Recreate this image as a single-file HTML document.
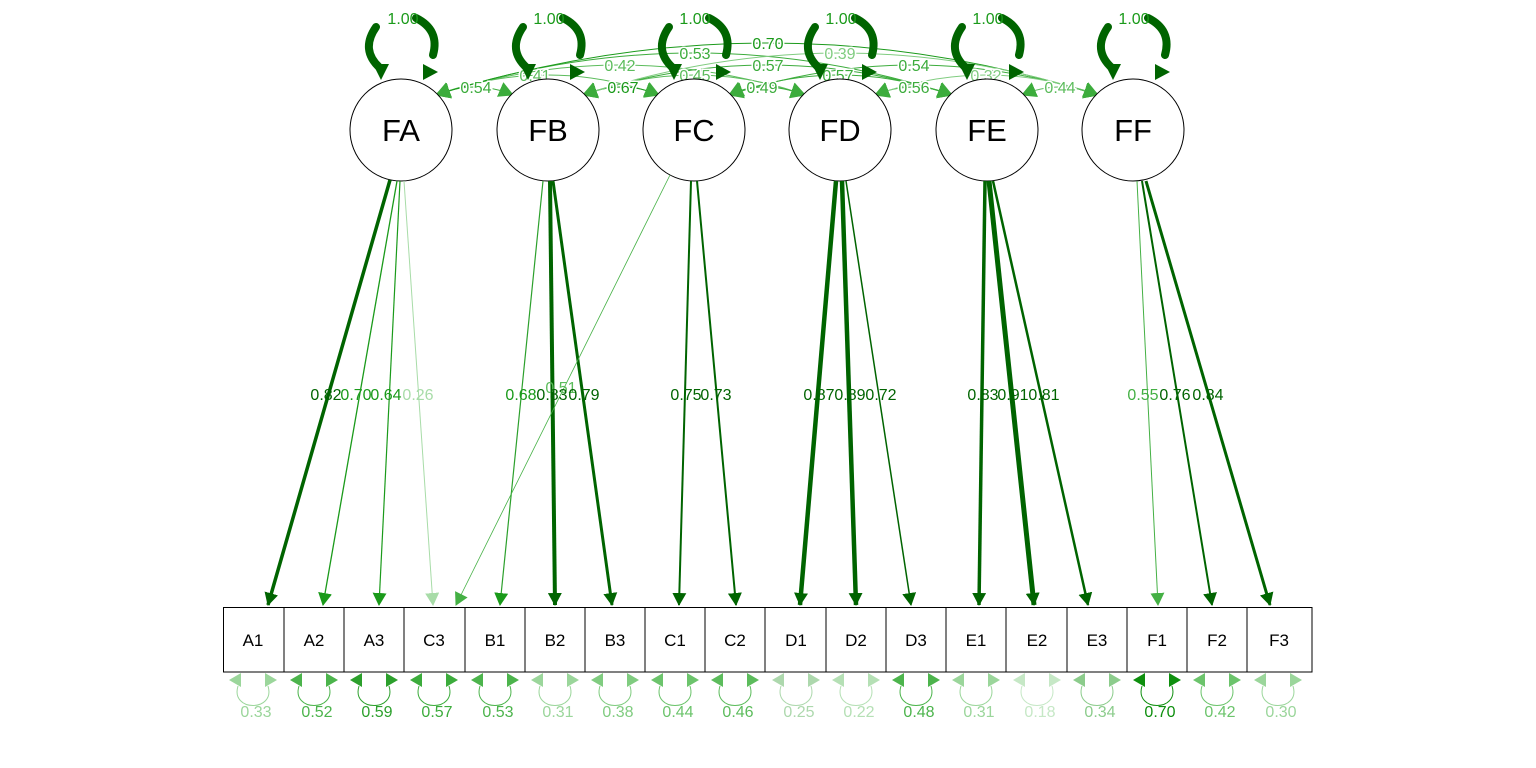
<!DOCTYPE html>
<html><head><meta charset="utf-8"><style>
html,body{margin:0;padding:0;background:#fff;}
svg{display:block;font-family:"Liberation Sans",Arial,sans-serif;}
.lt{font-size:16px;text-anchor:middle;}
.ct{font-size:16px;text-anchor:middle;paint-order:stroke;stroke:#fff;stroke-width:3px;}
.bt{font-size:17px;text-anchor:middle;fill:#000;}
.nt{font-size:31px;text-anchor:middle;fill:#000;}
</style></head><body>
<svg width="1536" height="768" viewBox="0 0 1536 768" xmlns="http://www.w3.org/2000/svg">
<defs>
<marker id="md" markerWidth="14" markerHeight="14" refX="12" refY="7" orient="auto" markerUnits="userSpaceOnUse"><path d="M0,0L13,7L0,14z" fill="#006400"/></marker>
<marker id="mm" markerWidth="14" markerHeight="14" refX="12" refY="7" orient="auto" markerUnits="userSpaceOnUse"><path d="M0,0L13,7L0,14z" fill="#1a9a1a"/></marker>
<marker id="ml" markerWidth="14" markerHeight="14" refX="12" refY="7" orient="auto" markerUnits="userSpaceOnUse"><path d="M0,0L13,7L0,14z" fill="#44b044"/></marker>
<marker id="mv" markerWidth="14" markerHeight="14" refX="12" refY="7" orient="auto" markerUnits="userSpaceOnUse"><path d="M0,0L13,7L0,14z" fill="#a8dca8"/></marker>
<marker id="cc" markerWidth="16" markerHeight="16" refX="14" refY="8" orient="auto-start-reverse" markerUnits="userSpaceOnUse"><path d="M0,0L15,8L0,16z" fill="#3cac3c"/></marker>
</defs>

<g fill="none" stroke-width="1">
<path d="M436,95 Q476,79 513,95" stroke="#3cac3c" marker-start="url(#cc)" marker-end="url(#cc)"/>
<path d="M436,95 Q548,55 659,95" stroke="#5cbc5c" marker-start="url(#cc)" marker-end="url(#cc)"/>
<path d="M583,95 Q623,79 659,95" stroke="#1a9a1a" marker-start="url(#cc)" marker-end="url(#cc)"/>
<path d="M436,95 Q620,35 805,95" stroke="#5cbc5c" marker-start="url(#cc)" marker-end="url(#cc)"/>
<path d="M436,95 Q695,11 952,95" stroke="#3cac3c" marker-start="url(#cc)" marker-end="url(#cc)"/>
<path d="M583,95 Q695,55 805,95" stroke="#5cbc5c" marker-start="url(#cc)" marker-end="url(#cc)"/>
<path d="M436,95 Q768,-9 1098,95" stroke="#1a9a1a" marker-start="url(#cc)" marker-end="url(#cc)"/>
<path d="M583,95 Q768,35 952,95" stroke="#3cac3c" marker-start="url(#cc)" marker-end="url(#cc)"/>
<path d="M729,95 Q762,79 805,95" stroke="#3cac3c" marker-start="url(#cc)" marker-end="url(#cc)"/>
<path d="M583,95 Q840,11 1098,95" stroke="#80cc80" marker-start="url(#cc)" marker-end="url(#cc)"/>
<path d="M729,95 Q838,55 952,95" stroke="#3cac3c" marker-start="url(#cc)" marker-end="url(#cc)"/>
<path d="M729,95 Q914,35 1098,95" stroke="#3cac3c" marker-start="url(#cc)" marker-end="url(#cc)"/>
<path d="M875,95 Q914,79 952,95" stroke="#3cac3c" marker-start="url(#cc)" marker-end="url(#cc)"/>
<path d="M875,95 Q986,55 1098,95" stroke="#80cc80" marker-start="url(#cc)" marker-end="url(#cc)"/>
<path d="M1022,95 Q1060,79 1098,95" stroke="#5cbc5c" marker-start="url(#cc)" marker-end="url(#cc)"/>
</g>
<g class="ct">
<text x="476" y="93" fill="#3cac3c">0.54</text>
<text x="535" y="81" fill="#5cbc5c">0.41</text>
<text x="623" y="93" fill="#1a9a1a">0.67</text>
<text x="620" y="71" fill="#5cbc5c">0.42</text>
<text x="695" y="59" fill="#3cac3c">0.53</text>
<text x="695" y="81" fill="#5cbc5c">0.45</text>
<text x="768" y="49" fill="#1a9a1a">0.70</text>
<text x="768" y="71" fill="#3cac3c">0.57</text>
<text x="762" y="93" fill="#3cac3c">0.49</text>
<text x="840" y="59" fill="#80cc80">0.39</text>
<text x="838" y="81" fill="#3cac3c">0.57</text>
<text x="914" y="71" fill="#3cac3c">0.54</text>
<text x="914" y="93" fill="#3cac3c">0.56</text>
<text x="986" y="81" fill="#80cc80">0.32</text>
<text x="1060" y="93" fill="#5cbc5c">0.44</text>
</g>

<g fill="none" stroke="#006400" stroke-width="8" stroke-linecap="round">
<path d="M376,27 Q360,50 380,68"/><path d="M416,18 Q440,30 433,55"/>
<path d="M523,27 Q507,50 527,68"/><path d="M563,18 Q587,30 580,55"/>
<path d="M669,27 Q653,50 673,68"/><path d="M709,18 Q733,30 726,55"/>
<path d="M815,27 Q799,50 819,68"/><path d="M855,18 Q879,30 872,55"/>
<path d="M962,27 Q946,50 966,68"/><path d="M1002,18 Q1026,30 1019,55"/>
<path d="M1108,27 Q1092,50 1112,68"/><path d="M1148,18 Q1172,30 1165,55"/>
</g>
<g fill="#006400">
<polygon points="373,64 389,64 381,80"/><polygon points="423,64 423,80 438,72"/>
<polygon points="520,64 536,64 528,80"/><polygon points="570,64 570,80 585,72"/>
<polygon points="666,64 682,64 674,80"/><polygon points="716,64 716,80 731,72"/>
<polygon points="812,64 828,64 820,80"/><polygon points="862,64 862,80 877,72"/>
<polygon points="959,64 975,64 967,80"/><polygon points="1009,64 1009,80 1024,72"/>
<polygon points="1105,64 1121,64 1113,80"/><polygon points="1155,64 1155,80 1170,72"/>
</g>
<g class="lt" fill="#1a9a1a">
<text x="403" y="24">1.00</text><text x="549" y="24">1.00</text><text x="695" y="24">1.00</text>
<text x="841" y="24">1.00</text><text x="988" y="24">1.00</text><text x="1134" y="24">1.00</text>
</g>

<g fill="#fff" stroke="#000" stroke-width="1">
<circle cx="401" cy="130" r="51"/><circle cx="548" cy="130" r="51"/><circle cx="694" cy="130" r="51"/>
<circle cx="840" cy="130" r="51"/><circle cx="987" cy="130" r="51"/><circle cx="1133" cy="130" r="51"/>
</g>
<g class="nt">
<text x="401" y="141">FA</text><text x="548" y="141">FB</text><text x="694" y="141">FC</text>
<text x="840" y="141">FD</text><text x="987" y="141">FE</text><text x="1133" y="141">FF</text>
</g>

<g fill="none">
<line x1="390" y1="180" x2="268" y2="605" stroke="#006400" stroke-width="3.5" marker-end="url(#md)"/>
<line x1="397" y1="181" x2="323" y2="605" stroke="#1a9a1a" stroke-width="1.3" marker-end="url(#mm)"/>
<line x1="400" y1="181" x2="379" y2="605" stroke="#1a9a1a" stroke-width="1.2" marker-end="url(#mm)"/>
<line x1="404" y1="181" x2="433" y2="605" stroke="#a8dca8" stroke-width="1" marker-end="url(#mv)"/>
<line x1="543" y1="181" x2="500" y2="605" stroke="#2ca02c" stroke-width="1.2" marker-end="url(#mm)"/>
<line x1="550" y1="181" x2="555" y2="605" stroke="#006400" stroke-width="4" marker-end="url(#md)"/>
<line x1="553" y1="181" x2="612" y2="605" stroke="#006400" stroke-width="3" marker-end="url(#md)"/>
<line x1="670" y1="175" x2="456" y2="605" stroke="#44b044" stroke-width="0.8" marker-end="url(#ml)"/>
<line x1="691" y1="181" x2="679" y2="605" stroke="#006400" stroke-width="2" marker-end="url(#md)"/>
<line x1="697" y1="181" x2="736" y2="605" stroke="#006400" stroke-width="2" marker-end="url(#md)"/>
<line x1="836" y1="181" x2="800" y2="605" stroke="#006400" stroke-width="4.5" marker-end="url(#md)"/>
<line x1="842" y1="181" x2="856" y2="605" stroke="#006400" stroke-width="4.5" marker-end="url(#md)"/>
<line x1="846" y1="181" x2="911" y2="605" stroke="#006400" stroke-width="1.5" marker-end="url(#md)"/>
<line x1="985" y1="181" x2="979" y2="605" stroke="#006400" stroke-width="3.5" marker-end="url(#md)"/>
<line x1="989" y1="181" x2="1034" y2="605" stroke="#006400" stroke-width="5" marker-end="url(#md)"/>
<line x1="993" y1="181" x2="1088" y2="605" stroke="#006400" stroke-width="2.5" marker-end="url(#md)"/>
<line x1="1137" y1="181" x2="1158" y2="605" stroke="#44b044" stroke-width="1" marker-end="url(#ml)"/>
<line x1="1142" y1="181" x2="1212" y2="605" stroke="#006400" stroke-width="2" marker-end="url(#md)"/>
<line x1="1146" y1="181" x2="1270" y2="605" stroke="#006400" stroke-width="3" marker-end="url(#md)"/>
</g>
<g class="lt">
<text x="326" y="400" fill="#006400">0.82</text><text x="356" y="400" fill="#1a9a1a">0.70</text>
<text x="386" y="400" fill="#1a9a1a">0.64</text><text x="418" y="400" fill="#a8dca8">0.26</text>
<text x="561" y="393" fill="#5cbc5c">0.51</text>
<text x="521" y="400" fill="#1a9a1a">0.68</text><text x="552" y="400" fill="#006400">0.83</text>
<text x="584" y="400" fill="#006400">0.79</text>
<text x="686" y="400" fill="#006400">0.75</text><text x="716" y="400" fill="#006400">0.73</text>
<text x="819" y="400" fill="#006400">0.87</text><text x="850" y="400" fill="#006400">0.89</text>
<text x="881" y="400" fill="#006400">0.72</text>
<text x="983" y="400" fill="#006400">0.83</text><text x="1013" y="400" fill="#006400">0.91</text>
<text x="1044" y="400" fill="#006400">0.81</text>
<text x="1143" y="400" fill="#44b044">0.55</text><text x="1175" y="400" fill="#006400">0.76</text>
<text x="1208" y="400" fill="#006400">0.84</text>
</g>

<g fill="#fff" stroke="#000" stroke-width="1">
<rect x="223.5" y="607.5" width="1088.5" height="64.5"/>
</g>
<g stroke="#000" stroke-width="1">
<line x1="284" y1="607" x2="284" y2="672"/><line x1="344" y1="607" x2="344" y2="672"/>
<line x1="404" y1="607" x2="404" y2="672"/><line x1="465" y1="607" x2="465" y2="672"/>
<line x1="525" y1="607" x2="525" y2="672"/><line x1="585" y1="607" x2="585" y2="672"/>
<line x1="645" y1="607" x2="645" y2="672"/><line x1="705" y1="607" x2="705" y2="672"/>
<line x1="765" y1="607" x2="765" y2="672"/><line x1="826" y1="607" x2="826" y2="672"/>
<line x1="886" y1="607" x2="886" y2="672"/><line x1="946" y1="607" x2="946" y2="672"/>
<line x1="1006" y1="607" x2="1006" y2="672"/><line x1="1067" y1="607" x2="1067" y2="672"/>
<line x1="1127" y1="607" x2="1127" y2="672"/><line x1="1187" y1="607" x2="1187" y2="672"/>
<line x1="1247" y1="607" x2="1247" y2="672"/>
</g>
<g class="bt">
<text x="253" y="646">A1</text><text x="314" y="646">A2</text><text x="374" y="646">A3</text>
<text x="434" y="646">C3</text><text x="495" y="646">B1</text><text x="555" y="646">B2</text>
<text x="615" y="646">B3</text><text x="675" y="646">C1</text><text x="735" y="646">C2</text>
<text x="796" y="646">D1</text><text x="856" y="646">D2</text><text x="916" y="646">D3</text>
<text x="976" y="646">E1</text><text x="1037" y="646">E2</text><text x="1097" y="646">E3</text>
<text x="1157" y="646">F1</text><text x="1217" y="646">F2</text><text x="1279" y="646">F3</text>
</g>

<g>
<g fill="none" stroke-width="1">
<path d="M238,686 C230,712 276,712 268,686" stroke="#9bd69b"/>
<path d="M299,686 C291,712 337,712 329,686" stroke="#4cb44c"/>
<path d="M359,686 C351,712 397,712 389,686" stroke="#2ca02c"/>
<path d="M419,686 C411,712 457,712 449,686" stroke="#3cac3c"/>
<path d="M480,686 C472,712 518,712 510,686" stroke="#4cb44c"/>
<path d="M540,686 C532,712 578,712 570,686" stroke="#9bd69b"/>
<path d="M600,686 C592,712 638,712 630,686" stroke="#80cc80"/>
<path d="M660,686 C652,712 698,712 690,686" stroke="#6cc46c"/>
<path d="M720,686 C712,712 758,712 750,686" stroke="#5cbc5c"/>
<path d="M781,686 C773,712 819,712 811,686" stroke="#add8ad"/>
<path d="M841,686 C833,712 879,712 871,686" stroke="#b5e0b5"/>
<path d="M901,686 C893,712 939,712 931,686" stroke="#4cb44c"/>
<path d="M961,686 C953,712 999,712 991,686" stroke="#9bd69b"/>
<path d="M1022,686 C1014,712 1060,712 1052,686" stroke="#c6e8c6"/>
<path d="M1082,686 C1074,712 1120,712 1112,686" stroke="#8ccc8c"/>
<path d="M1142,686 C1134,712 1180,712 1172,686" stroke="#0e8f0e"/>
<path d="M1202,686 C1194,712 1240,712 1232,686" stroke="#6cc46c"/>
<path d="M1263,686 C1255,712 1301,712 1293,686" stroke="#9bd69b"/>
</g>
<g>
<polygon points="229,680 241,673 241,687" fill="#9bd69b"/><polygon points="277,680 265,673 265,687" fill="#9bd69b"/>
<polygon points="290,680 302,673 302,687" fill="#4cb44c"/><polygon points="338,680 326,673 326,687" fill="#4cb44c"/>
<polygon points="350,680 362,673 362,687" fill="#2ca02c"/><polygon points="398,680 386,673 386,687" fill="#2ca02c"/>
<polygon points="410,680 422,673 422,687" fill="#3cac3c"/><polygon points="458,680 446,673 446,687" fill="#3cac3c"/>
<polygon points="471,680 483,673 483,687" fill="#4cb44c"/><polygon points="519,680 507,673 507,687" fill="#4cb44c"/>
<polygon points="531,680 543,673 543,687" fill="#9bd69b"/><polygon points="579,680 567,673 567,687" fill="#9bd69b"/>
<polygon points="591,680 603,673 603,687" fill="#80cc80"/><polygon points="639,680 627,673 627,687" fill="#80cc80"/>
<polygon points="651,680 663,673 663,687" fill="#6cc46c"/><polygon points="699,680 687,673 687,687" fill="#6cc46c"/>
<polygon points="711,680 723,673 723,687" fill="#5cbc5c"/><polygon points="759,680 747,673 747,687" fill="#5cbc5c"/>
<polygon points="772,680 784,673 784,687" fill="#add8ad"/><polygon points="820,680 808,673 808,687" fill="#add8ad"/>
<polygon points="832,680 844,673 844,687" fill="#b5e0b5"/><polygon points="880,680 868,673 868,687" fill="#b5e0b5"/>
<polygon points="892,680 904,673 904,687" fill="#4cb44c"/><polygon points="940,680 928,673 928,687" fill="#4cb44c"/>
<polygon points="952,680 964,673 964,687" fill="#9bd69b"/><polygon points="1000,680 988,673 988,687" fill="#9bd69b"/>
<polygon points="1013,680 1025,673 1025,687" fill="#c6e8c6"/><polygon points="1061,680 1049,673 1049,687" fill="#c6e8c6"/>
<polygon points="1073,680 1085,673 1085,687" fill="#8ccc8c"/><polygon points="1121,680 1109,673 1109,687" fill="#8ccc8c"/>
<polygon points="1133,680 1145,673 1145,687" fill="#0e8f0e"/><polygon points="1181,680 1169,673 1169,687" fill="#0e8f0e"/>
<polygon points="1193,680 1205,673 1205,687" fill="#6cc46c"/><polygon points="1241,680 1229,673 1229,687" fill="#6cc46c"/>
<polygon points="1254,680 1266,673 1266,687" fill="#9bd69b"/><polygon points="1302,680 1290,673 1290,687" fill="#9bd69b"/>
</g>
<g class="lt">
<text x="256" y="717" fill="#9bd69b">0.33</text><text x="317" y="717" fill="#4cb44c">0.52</text>
<text x="377" y="717" fill="#2ca02c">0.59</text><text x="437" y="717" fill="#3cac3c">0.57</text>
<text x="498" y="717" fill="#4cb44c">0.53</text><text x="558" y="717" fill="#9bd69b">0.31</text>
<text x="618" y="717" fill="#80cc80">0.38</text><text x="678" y="717" fill="#6cc46c">0.44</text>
<text x="738" y="717" fill="#5cbc5c">0.46</text><text x="799" y="717" fill="#add8ad">0.25</text>
<text x="859" y="717" fill="#b5e0b5">0.22</text><text x="919" y="717" fill="#4cb44c">0.48</text>
<text x="979" y="717" fill="#9bd69b">0.31</text><text x="1040" y="717" fill="#c6e8c6">0.18</text>
<text x="1100" y="717" fill="#8ccc8c">0.34</text><text x="1160" y="717" fill="#0e8f0e">0.70</text>
<text x="1220" y="717" fill="#6cc46c">0.42</text><text x="1281" y="717" fill="#9bd69b">0.30</text>
</g>
</g>
</svg>
</body></html>
